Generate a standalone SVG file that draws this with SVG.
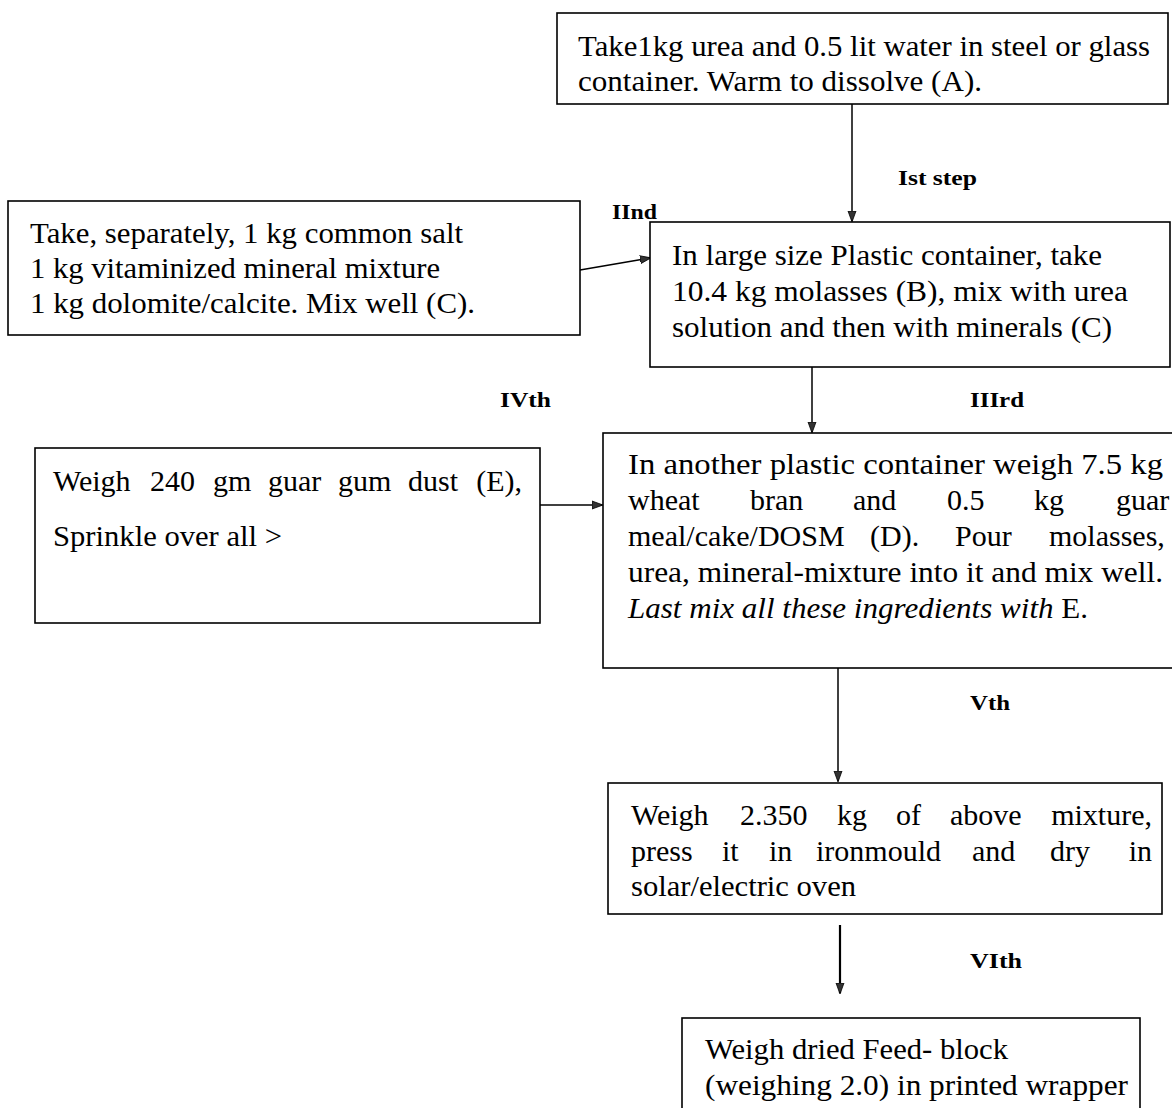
<svg xmlns="http://www.w3.org/2000/svg" width="1172" height="1108" viewBox="0 0 1172 1108">
<style>
.box{fill:#fff;stroke:#000;stroke-width:1.6}
.t{font-family:"Liberation Serif","Times New Roman",serif;font-size:30px;fill:#000}
.i{font-style:italic}
.e{text-anchor:end}
.lbl{font-family:"Liberation Serif","Times New Roman",serif;font-size:21px;font-weight:bold;fill:#000}
.c{stroke:#000;stroke-width:1.5;fill:none}
</style>
<defs>
<marker id="ah" markerWidth="11" markerHeight="10" refX="10" refY="5" orient="auto" markerUnits="userSpaceOnUse">
<path d="M0,1 L11,5 L0,9 Z" fill="#333" stroke="#000" stroke-width="0.8"/>
</marker>
</defs>
<rect width="1172" height="1108" fill="#fff"/>
<g id="connectors">
<line class="c" x1="852" y1="104" x2="852" y2="221" marker-end="url(#ah)"/>
<line class="c" x1="580" y1="270" x2="650" y2="258" marker-end="url(#ah)"/>
<line class="c" x1="812" y1="367" x2="812" y2="432" marker-end="url(#ah)"/>
<line class="c" x1="540" y1="505" x2="602" y2="505" marker-end="url(#ah)"/>
<line class="c" x1="838" y1="668" x2="838" y2="781" marker-end="url(#ah)"/>
<line class="c" style="stroke-width:2.2" x1="840" y1="925" x2="840" y2="993" marker-end="url(#ah)"/>
</g>
<g id="labels">
<text class="lbl" x="898" y="185" textLength="79" lengthAdjust="spacingAndGlyphs">Ist step</text>
<text class="lbl" x="612" y="219" textLength="45" lengthAdjust="spacingAndGlyphs">IInd</text>
<text class="lbl" x="500" y="407" textLength="51" lengthAdjust="spacingAndGlyphs">IVth</text>
<text class="lbl" x="970" y="407" textLength="54" lengthAdjust="spacingAndGlyphs">IIIrd</text>
<text class="lbl" x="970" y="710" textLength="40" lengthAdjust="spacingAndGlyphs">Vth</text>
<text class="lbl" x="970" y="968" textLength="52" lengthAdjust="spacingAndGlyphs">VIth</text>
</g>
<g id="nodeA">
<rect class="box" x="557" y="13" width="611" height="91"/>
<text class="t" x="578" y="56" textLength="572" lengthAdjust="spacingAndGlyphs">Take1kg urea and 0.5 lit water in steel or glass</text>
<text class="t" x="578" y="91" textLength="404" lengthAdjust="spacingAndGlyphs">container. Warm to dissolve (A).</text>
</g>
<g id="nodeC">
<rect class="box" x="8" y="201" width="572" height="134"/>
<text class="t" x="30" y="243" textLength="433" lengthAdjust="spacingAndGlyphs">Take, separately, 1 kg common salt</text>
<text class="t" x="30" y="278" textLength="410" lengthAdjust="spacingAndGlyphs">1 kg vitaminized mineral mixture</text>
<text class="t" x="30" y="313" textLength="445" lengthAdjust="spacingAndGlyphs">1 kg  dolomite/calcite. Mix well (C).</text>
</g>
<g id="nodeB">
<rect class="box" x="650" y="222" width="520" height="145"/>
<text class="t" x="672" y="265" textLength="430" lengthAdjust="spacingAndGlyphs">In large size Plastic container, take</text>
<text class="t" x="672" y="301" textLength="456" lengthAdjust="spacingAndGlyphs">10.4 kg molasses (B), mix with  urea</text>
<text class="t" x="672" y="337" textLength="440" lengthAdjust="spacingAndGlyphs">solution and then with minerals (C)</text>
</g>
<g id="nodeD">
<rect class="box" x="603" y="433" width="575" height="235"/>
<text class="t" x="628" y="474" textLength="535" lengthAdjust="spacingAndGlyphs">In another plastic container weigh 7.5 kg</text>
<text class="t" y="510"><tspan x="628">wheat</tspan> <tspan x="750">bran</tspan> <tspan x="853">and</tspan> <tspan x="947">0.5</tspan> <tspan x="1034">kg</tspan> <tspan x="1116">guar</tspan></text>
<text class="t" y="546"><tspan x="628">meal/cake/DOSM</tspan> <tspan x="870">(D).</tspan> <tspan x="955">Pour</tspan> <tspan x="1049">molasses,</tspan></text>
<text class="t" x="628" y="582" textLength="535" lengthAdjust="spacingAndGlyphs">urea, mineral-mixture into it and mix well.</text>
<text class="t" x="628" y="618" textLength="460" lengthAdjust="spacingAndGlyphs"><tspan class="i">Last mix all these ingredients with</tspan> E.</text>
</g>
<g id="nodeE">
<rect class="box" x="35" y="448" width="505" height="175"/>
<text class="t" y="491"><tspan x="53">Weigh</tspan> <tspan x="150">240</tspan> <tspan x="213">gm</tspan> <tspan x="268">guar</tspan> <tspan x="338">gum</tspan> <tspan x="408">dust</tspan></text>
<text class="t e" x="522" y="491">(E),</text>
<text class="t" x="53" y="546" textLength="229" lengthAdjust="spacingAndGlyphs">Sprinkle over all &gt;</text>
</g>
<g id="nodeF">
<rect class="box" x="608" y="783" width="554" height="131"/>
<text class="t" y="825"><tspan x="631">Weigh</tspan> <tspan x="740">2.350</tspan> <tspan x="837">kg</tspan> <tspan x="896">of</tspan> <tspan x="950">above</tspan></text>
<text class="t e" x="1152" y="825">mixture,</text>
<text class="t" y="861"><tspan x="631">press</tspan> <tspan x="722">it</tspan> <tspan x="769">in</tspan> <tspan x="816">ironmould</tspan> <tspan x="972">and</tspan> <tspan x="1050">dry</tspan></text>
<text class="t e" x="1152" y="861">in</text>
<text class="t" x="631" y="896" textLength="225" lengthAdjust="spacingAndGlyphs">solar/electric oven</text>
</g>
<g id="nodeG">
<rect class="box" x="682" y="1018" width="458" height="100"/>
<text class="t" x="705" y="1059" textLength="303" lengthAdjust="spacingAndGlyphs">Weigh dried Feed- block</text>
<text class="t" x="705" y="1095" textLength="423" lengthAdjust="spacingAndGlyphs">(weighing 2.0) in printed wrapper</text>
</g>
</svg>
